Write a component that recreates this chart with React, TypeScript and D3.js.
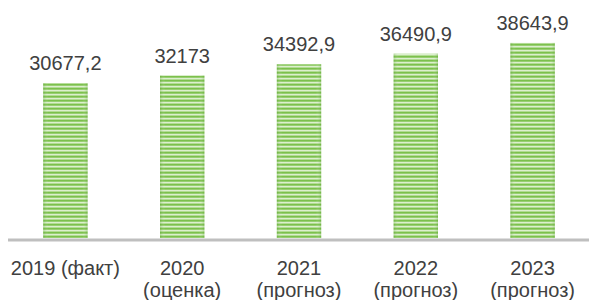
import React from "react";
import * as d3 from "d3";

const categories = ["2019 (факт)", "2020|(оценка)", "2021|(прогноз)", "2022|(прогноз)", "2023|(прогноз)"];
const values = [30677.2, 32173, 34392.9, 36490.9, 38643.9];
const valueLabels = ["30677,2", "32173", "34392,9", "36490,9", "38643,9"];

const W = 589;
const H = 300;
const textColor = "#404040";

const App = () => {
  const x = d3
    .scaleBand()
    .domain(categories)
    .range([7, 591])
    .paddingInner(0.62)
    .paddingOuter(0.31);
  const y = d3.scaleLinear().domain([0, 40000]).range([238, 36]);

  return (
    <svg
      width={W}
      height={H}
      style={{ position: "absolute", left: 0, top: 0 }}
      fontFamily="'Liberation Sans', Arial, sans-serif"
    >
      <defs>
        <pattern id="stripes" width="4" height="4" patternUnits="userSpaceOnUse">
          <rect width="4" height="1" y="0" fill="#7cc04c" />
          <rect width="4" height="1" y="1" fill="#98cf72" />
          <rect width="4" height="1" y="2" fill="#dcefce" />
          <rect width="4" height="1" y="3" fill="#b2dc94" />
        </pattern>
        <linearGradient id="edge" x1="0" x2="1" y1="0" y2="0">
          <stop offset="0" stopColor="#4f9a25" stopOpacity="0.3" />
          <stop offset="0.12" stopColor="#ffffff" stopOpacity="0" />
          <stop offset="0.88" stopColor="#ffffff" stopOpacity="0" />
          <stop offset="1" stopColor="#4f9a25" stopOpacity="0.3" />
        </linearGradient>
      </defs>
      {categories.map((c, i) => {
        const bx = x(c) as number;
        const bw = x.bandwidth();
        const cx = bx + bw / 2;
        const top = y(values[i]);
        const lines = c.split("|");
        return (
          <g key={c}>
            <rect x={bx} y={top} width={bw} height={y(0) - top} fill="url(#stripes)" />
            <rect x={bx} y={top} width={bw} height={y(0) - top} fill="url(#edge)" />
            <text x={cx} y={top - 13} textAnchor="middle" fontSize={20} fill={textColor}>
              {valueLabels[i]}
            </text>
            {lines.map((l, j) => (
              <text key={j} x={cx} y={275 + j * 22} textAnchor="middle" fontSize={20} fill={textColor}>
                {l}
              </text>
            ))}
          </g>
        );
      })}
      <line x1={8} x2={W} y1={240} y2={240} stroke="#bfbfbf" strokeWidth={3} />
    </svg>
  );
};

export default App;
